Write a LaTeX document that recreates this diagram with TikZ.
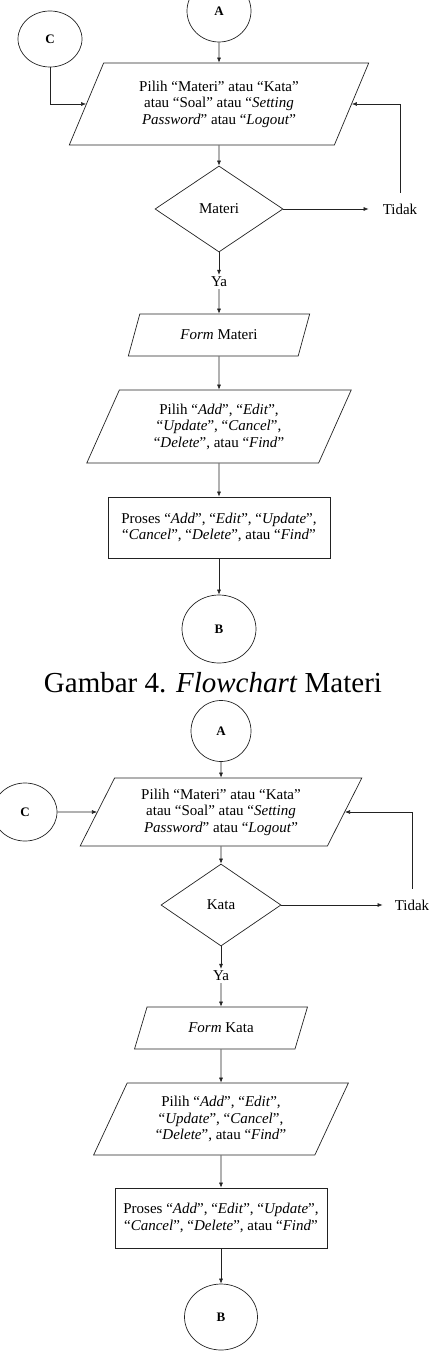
\documentclass[tikz,border=0pt]{standalone}
\usepackage{fontspec}
\setmainfont{Liberation Serif}
\usetikzlibrary{arrows.meta,shapes.geometric}
\definecolor{ink}{HTML}{222222}
\newcommand{\flowfont}{\fontsize{15}{16.5}\selectfont}
\tikzset{
  conn/.style={draw=ink,ellipse,line width=0.7pt,inner sep=0pt,
    font=\fontsize{13}{13}\selectfont\bfseries},
  io/.style={draw=ink,trapezium,trapezium left angle=#1,trapezium right angle={180-#1},
    trapezium stretches=true,line width=0.7pt,inner sep=0pt,align=center,font=\flowfont},
  proc/.style={draw=ink,rectangle,line width=0.7pt,inner sep=0pt,align=center,font=\flowfont},
  decision/.style={draw=ink,diamond,line width=0.7pt,inner sep=0pt,font=\flowfont},
  lbl/.style={font=\flowfont,inner sep=2pt},
  arrow/.style={-{Latex[length=5pt,width=4pt]},draw=ink,line width=0.6pt}
}
\begin{document}
\begin{tikzpicture}[x=1pt,y=-1pt]
\useasboundingbox (0,0) rectangle (431,1364);
% Flowchart Materi
\node[conn,minimum width=64pt,minimum height=62pt] (a1) at (219,11) {A};
\node[conn,minimum width=64pt,minimum height=56pt] (c1) at (50,39) {C};
\node[io=63,minimum width=300pt,minimum height=82pt] (p1) at (219,104)
  {Pilih “Materi” atau “Kata”\\atau “Soal” atau “\textit{Setting}\\\textit{Password}” atau “\textit{Logout}”};
\node[decision,minimum width=128pt,minimum height=86pt] (d1) at (219,209) {Materi};
\node[lbl] (t1) at (400,209) {Tidak};
\node[lbl] (y1) at (219,282) {Ya};
\node[io=61,minimum width=182pt,minimum height=42pt] (f1) at (219,335) {\textit{Form} Materi};
\node[io=65,minimum width=265pt,minimum height=73pt] (s1) at (219,426.5)
  {Pilih “\textit{Add}”, “\textit{Edit}”,\\“\textit{Update}”, “\textit{Cancel}”,\\“\textit{Delete}”, atau “\textit{Find}”};
\node[proc,minimum width=222pt,minimum height=61pt] (r1) at (219,527.5)
  {Proses “\textit{Add}”, “\textit{Edit}”, “\textit{Update}”,\\“\textit{Cancel}”, “\textit{Delete}”, atau “\textit{Find}”};
\node[conn,minimum width=74pt,minimum height=68pt] (b1) at (219,629) {B};
\node[font=\fontsize{29}{29}\selectfont,anchor=base,inner sep=0pt] (cap) at (213,692)
  {Gambar 4. \textit{Flowchart} Materi};

\draw[arrow] (a1.south) -- (p1.north);
\draw[arrow] (c1.south) |- (p1.west);
\draw[arrow] (p1.south) -- (d1.north);
\draw[arrow,shorten >=12pt] (d1.east) -- (t1.west);
\draw[arrow,shorten <=9pt] (t1.north) |- (p1.east);
\draw[arrow] (d1.south) -- (y1.north);
\draw[arrow] (y1.south) -- (f1.north);
\draw[arrow] (f1.south) -- (s1.north);
\draw[arrow] (s1.south) -- (r1.north);
\draw[arrow] (r1.south) -- (b1.north);

% Flowchart Kata
\node[conn,minimum width=60pt,minimum height=61pt] (a2) at (221,731) {A};
\node[conn,minimum width=64pt,minimum height=58pt] (c2) at (25,812) {C};
\node[io=61,minimum width=282pt,minimum height=68pt] (p2) at (221,812)
  {Pilih “Materi” atau “Kata”\\atau “Soal” atau “\textit{Setting}\\\textit{Password}” atau “\textit{Logout}”};
\node[decision,minimum width=120pt,minimum height=82pt] (d2) at (221,905) {Kata};
\node[lbl] (t2) at (412,905) {Tidak};
\node[lbl] (y2) at (221,976) {Ya};
\node[io=61,minimum width=174pt,minimum height=42pt] (f2) at (221,1028) {\textit{Form} Kata};
\node[io=63,minimum width=255pt,minimum height=72pt] (s2) at (221,1119)
  {Pilih “\textit{Add}”, “\textit{Edit}”,\\“\textit{Update}”, “\textit{Cancel}”,\\“\textit{Delete}”, atau “\textit{Find}”};
\node[proc,minimum width=212pt,minimum height=60pt] (r2) at (221,1218)
  {Proses “\textit{Add}”, “\textit{Edit}”, “\textit{Update}”,\\“\textit{Cancel}”, “\textit{Delete}”, atau “\textit{Find}”};
\node[conn,minimum width=73pt,minimum height=66pt] (b2) at (221,1317) {B};

\draw[arrow] (a2.south) -- (p2.north);
\draw[arrow] (c2.east) -- (p2.west);
\draw[arrow] (p2.south) -- (d2.north);
\draw[arrow,shorten >=10pt] (d2.east) -- (t2.west);
\draw[arrow,shorten <=9pt] (t2.north) |- (p2.east);
\draw[arrow] (d2.south) -- (y2.north);
\draw[arrow] (y2.south) -- (f2.north);
\draw[arrow] (f2.south) -- (s2.north);
\draw[arrow] (s2.south) -- (r2.north);
\draw[arrow] (r2.south) -- (b2.north);
\end{tikzpicture}
\end{document}
